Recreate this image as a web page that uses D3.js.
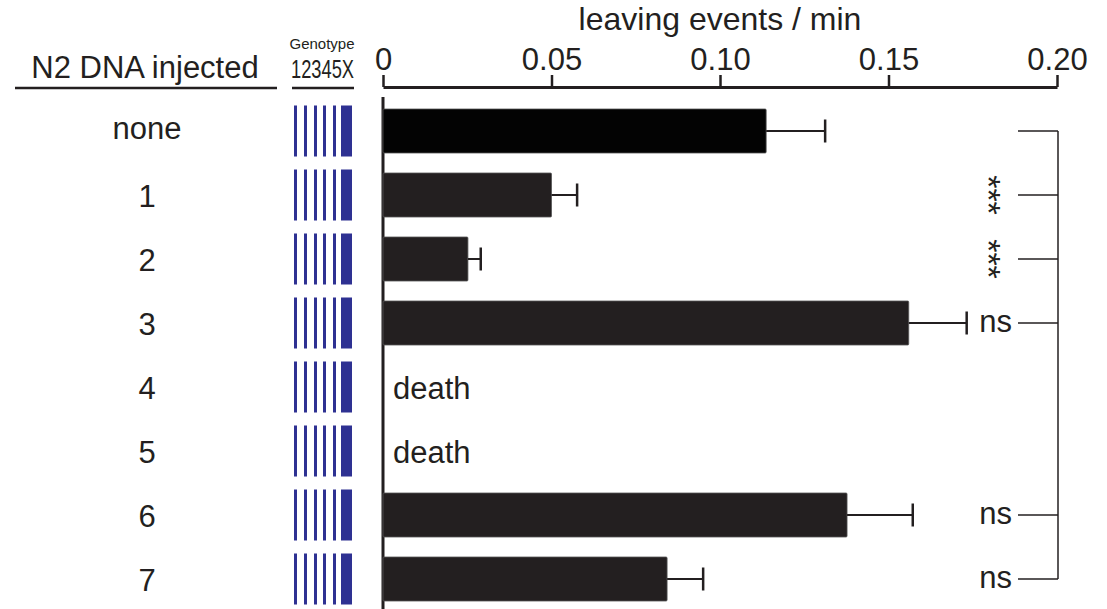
<!DOCTYPE html>
<html>
<head>
<meta charset="utf-8">
<script src="https://cdn.jsdelivr.net/npm/d3@7"></script>
<style>
  body { margin: 0; background: #fff; }
  text { font-family: "Liberation Sans", Arial, sans-serif; fill: #231f20; }
</style>
</head>
<body>
<script>
// data
var groups = ["none", "1", "2", "3", "4", "5", "6", "7"];
var means  = [0.1137, 0.0500, 0.0252, 0.1560, null, null, 0.1377, 0.0843];
var errs   = [0.0175, 0.0076, 0.0038, 0.0172, null, null, 0.0195, 0.0107];
var sig    = ["", "***", "***", "ns", "", "", "ns", "ns"];
var bracketRows = ["none", "1", "2", "3", "6", "7"];
var tickValues = [0, 0.05, 0.10, 0.15, 0.20];
var tickLabels = ["0", "0.05", "0.10", "0.15", "0.20"];
var chromosomes = ["1", "2", "3", "4", "5", "X"];

var w = 1107, h = 609;
var ink = "#231f20";

var svg = d3.select("body").append("svg")
    .attr("width", w)
    .attr("height", h);

// scales
var x = d3.scaleLinear().domain([0, 0.20]).range([383, 1057]);

var y = d3.scaleBand()
    .domain(groups)
    .range([99, 611])
    .paddingInner(0.3125)
    .paddingOuter(0.15625);

function cy(g) { return y(g) + y.bandwidth() / 2; }

// genotype stripe positions
var gx = d3.scaleOrdinal()
    .domain(chromosomes)
    .range([294, 304, 314, 323, 333, 341]);
var gw = function(c) { return c === "X" ? 11 : 3; };

// title + top axis
svg.append("text")
    .attr("x", (x(0) + x(0.2)) / 2)
    .attr("y", 30)
    .attr("text-anchor", "middle")
    .style("font-size", "32px")
    .text("leaving events / min");

var xAxis = d3.axisTop(x)
    .tickValues(tickValues)
    .tickFormat(function(d, i) { return tickLabels[i]; })
    .tickSize(12)
    .tickSizeOuter(0)
    .tickPadding(5);

var ax = svg.append("g")
    .attr("transform", "translate(0,87)")
    .call(xAxis);
ax.select(".domain").attr("stroke", ink).attr("stroke-width", 3);
ax.selectAll(".tick line").attr("stroke", ink).attr("stroke-width", 2.5);
ax.selectAll(".tick text")
    .style("font-size", "31px")
    .style("font-family", "'Liberation Sans', Arial, sans-serif")
    .attr("fill", ink);

// left vertical axis line
svg.append("line")
    .attr("x1", x(0)).attr("x2", x(0))
    .attr("y1", 97).attr("y2", h)
    .attr("stroke", ink)
    .attr("stroke-width", 3);

// headers
svg.append("text")
    .attr("x", 145).attr("y", 78)
    .attr("text-anchor", "middle")
    .style("font-size", "31px")
    .text("N2 DNA injected");
svg.append("line")
    .attr("x1", 15).attr("x2", 277)
    .attr("y1", 88).attr("y2", 88)
    .attr("stroke", ink).attr("stroke-width", 2.5);

svg.append("text")
    .attr("x", 322).attr("y", 49)
    .attr("text-anchor", "middle")
    .style("font-size", "15px")
    .text("Genotype");
svg.append("text")
    .attr("x", 291).attr("y", 78)
    .attr("textLength", 63)
    .attr("lengthAdjust", "spacingAndGlyphs")
    .style("font-size", "25px")
    .text(chromosomes.join(""));
svg.append("line")
    .attr("x1", 292).attr("x2", 354)
    .attr("y1", 88).attr("y2", 88)
    .attr("stroke", ink).attr("stroke-width", 2.5);

// row labels
svg.selectAll(".rowlabel")
    .data(groups)
    .enter()
    .append("text")
    .attr("class", "rowlabel")
    .attr("x", 147)
    .attr("y", function(d) { return cy(d) + (d === "none" ? 8 : 12); })
    .attr("text-anchor", "middle")
    .style("font-size", "31px")
    .text(function(d) { return d; });

// genotype stripes
var rows = svg.selectAll(".geno")
    .data(groups)
    .enter()
    .append("g")
    .attr("class", "geno")
    .attr("transform", function(d) { return "translate(0," + (cy(d) - 25.5) + ")"; });

rows.selectAll("rect")
    .data(chromosomes)
    .enter()
    .append("rect")
    .attr("x", function(c) { return gx(c); })
    .attr("y", 0)
    .attr("width", gw)
    .attr("height", 51)
    .attr("fill", "#2e3192");

// bars
var rowData = groups.map(function(g, i) {
    return { g: g, v: means[i], e: errs[i], s: sig[i], i: i };
});
var withBars = rowData.filter(function(d) { return d.v !== null; });

svg.selectAll(".bar")
    .data(withBars)
    .enter()
    .append("rect")
    .attr("class", "bar")
    .attr("x", x(0))
    .attr("y", function(d) { return y(d.g); })
    .attr("width", function(d) { return x(d.v) - x(0); })
    .attr("height", y.bandwidth())
    .attr("rx", 1)
    .attr("fill", function(d) { return d.i === 0 ? "#030303" : ink; })
    .attr("stroke", "#555")
    .attr("stroke-width", 0.8);

// error bars
svg.selectAll(".err")
    .data(withBars)
    .enter()
    .append("line")
    .attr("class", "err")
    .attr("x1", function(d) { return x(d.v); })
    .attr("x2", function(d) { return x(d.v + d.e); })
    .attr("y1", function(d) { return cy(d.g); })
    .attr("y2", function(d) { return cy(d.g); })
    .attr("stroke", ink)
    .attr("stroke-width", 2);

svg.selectAll(".cap")
    .data(withBars)
    .enter()
    .append("line")
    .attr("class", "cap")
    .attr("x1", function(d) { return x(d.v + d.e); })
    .attr("x2", function(d) { return x(d.v + d.e); })
    .attr("y1", function(d) { return cy(d.g) - 11.5; })
    .attr("y2", function(d) { return cy(d.g) + 11.5; })
    .attr("stroke", ink)
    .attr("stroke-width", 2.5);

// death labels
svg.selectAll(".death")
    .data(rowData.filter(function(d) { return d.v === null; }))
    .enter()
    .append("text")
    .attr("class", "death")
    .attr("x", 393)
    .attr("y", function(d) { return cy(d.g) + 12; })
    .style("font-size", "31px")
    .text("death");

// significance bracket
var bx = 1058, bl = 1018;
svg.append("line")
    .attr("x1", bx).attr("x2", bx)
    .attr("y1", cy(bracketRows[0]))
    .attr("y2", cy(bracketRows[bracketRows.length - 1]))
    .attr("stroke", ink).attr("stroke-width", 1.5);

svg.selectAll(".brk")
    .data(bracketRows)
    .enter()
    .append("line")
    .attr("class", "brk")
    .attr("x1", bl).attr("x2", bx)
    .attr("y1", function(d) { return cy(d); })
    .attr("y2", function(d) { return cy(d); })
    .attr("stroke", ink).attr("stroke-width", 1.5);

svg.selectAll(".ns")
    .data(rowData.filter(function(d) { return d.s === "ns"; }))
    .enter()
    .append("text")
    .attr("class", "ns")
    .attr("x", 1012)
    .attr("y", function(d) { return cy(d.g) + 9; })
    .attr("text-anchor", "end")
    .style("font-size", "31px")
    .text(function(d) { return d.s; });

svg.selectAll(".stars")
    .data(rowData.filter(function(d) { return d.s === "***"; }))
    .enter()
    .append("text")
    .attr("class", "stars")
    .attr("transform", function(d) { return "translate(977," + cy(d.g) + ") rotate(90)"; })
    .attr("text-anchor", "middle")
    .style("font-size", "34px")
    .text(function(d) { return d.s; });
</script>
</body>
</html>
